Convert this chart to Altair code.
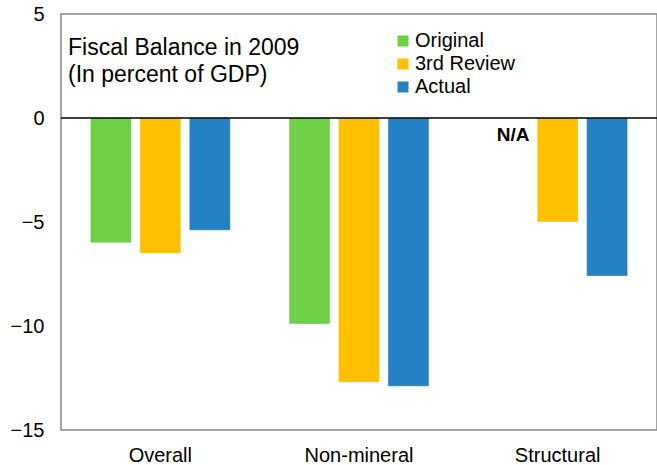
import altair as alt
import pandas as pd

# Fiscal balance in 2009, percent of GDP
categories = ["Overall", "Non-mineral", "Structural"]
series = ["Original", "3rd Review", "Actual"]
original = [-6.0, -9.9, None]
third_review = [-6.5, -12.7, -5.0]
actual = [-5.4, -12.9, -7.6]
colors = ["#6DD045", "#FFC000", "#2381C4"]
y_ticks = [5, 0, -5, -10, -15]
title_lines = ["Fiscal Balance in 2009", "(In percent of GDP)"]
na_label = "N/A"

rows = []
for name, vals in zip(series, [original, third_review, actual]):
    for cat, v in zip(categories, vals):
        if v is not None:
            rows.append({"category": cat, "series": name, "value": v})
df = pd.DataFrame(rows)

na_df = pd.DataFrame([{"category": "Structural", "series": "Original", "value": 0, "label": na_label}])
zero_df = pd.DataFrame([{"value": 0}])

FONT = "Liberation Sans"

x_enc = alt.X(
    "category:N",
    sort=categories,
    scale=alt.Scale(paddingInner=0.296, paddingOuter=0.148),
    axis=alt.Axis(title=None, labelAngle=0, ticks=False, domain=False,
                  labelFontSize=20, labelFont=FONT, labelColor="#000000",
                  labelPadding=15),
)
y_scale = alt.Scale(domain=[-15, 5], nice=False)

bars = alt.Chart(df).mark_bar(strokeWidth=1, strokeOpacity=0.35, stroke="white").encode(
    x=x_enc,
    xOffset=alt.XOffset("series:N", sort=series,
                        scale=alt.Scale(domain=series, paddingInner=0.172, paddingOuter=0)),
    y=alt.Y("value:Q", scale=y_scale,
            axis=alt.Axis(title=None, values=y_ticks, ticks=False, domain=False, grid=False,
                          labelFontSize=20, labelFont=FONT, labelColor="#000000",
                          labelPadding=17)),
    color=alt.Color("series:N", sort=series,
                    scale=alt.Scale(domain=series, range=colors),
                    legend=alt.Legend(title=None, orient="none", legendX=332, legendY=17,
                                      symbolType="square", symbolSize=121,
                                      symbolStrokeWidth=0,
                                      labelFontSize=20, labelFont=FONT, labelColor="#000000",
                                      labelOffset=2, rowPadding=3, padding=0)),
)

zero_line = alt.Chart(zero_df).mark_rule(color="#000000", strokeWidth=1.5).encode(
    y=alt.Y("value:Q", scale=y_scale)
)

na_text = alt.Chart(na_df).mark_text(
    font=FONT, fontSize=19, fontWeight="bold", color="#000000", dy=17, dx=5
).encode(
    x=alt.X("category:N", sort=categories),
    xOffset=alt.XOffset("series:N", sort=series),
    y=alt.Y("value:Q", scale=y_scale),
    text="label:N",
)

title_text = alt.Chart(zero_df).mark_text(
    font=FONT, fontSize=23, align="left", baseline="top", lineHeight=27, color="#000000"
).encode(
    x=alt.value(7),
    y=alt.value(23),
    text=alt.value(title_lines),
)

chart = alt.layer(bars, zero_line, na_text, title_text).properties(
    width=596,
    height=416,
    autosize=alt.AutoSizeParams(type="none"),
    padding={"left": 61, "top": 14, "right": 0, "bottom": 35},
    background="white",
).configure_view(
    stroke="#888888", strokeWidth=1.5
)

chart.save("out.html", embed_options={"renderer": "svg", "actions": False})
